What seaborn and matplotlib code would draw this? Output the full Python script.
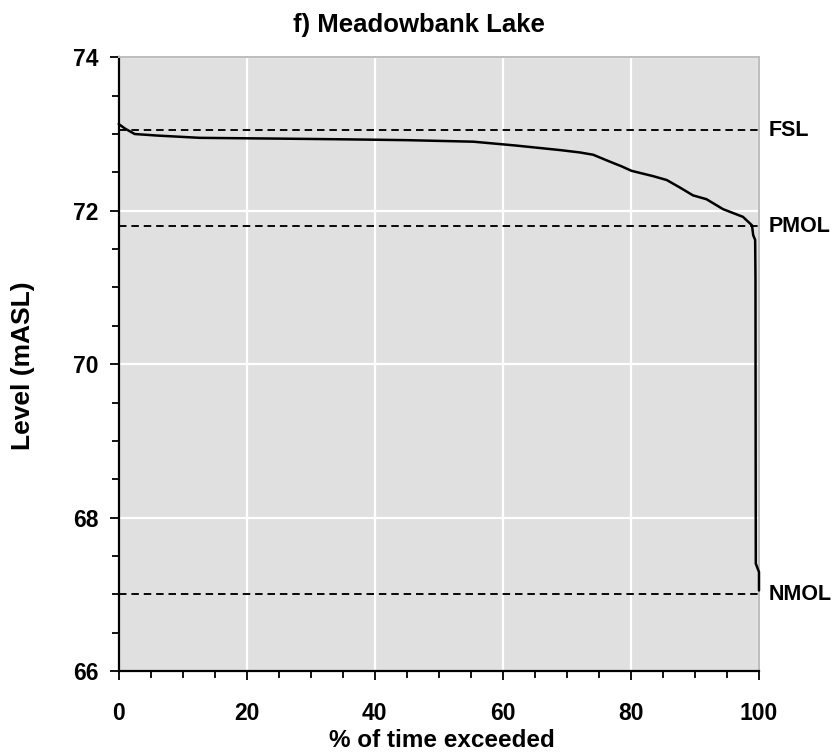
import matplotlib
matplotlib.use("Agg")
import matplotlib.pyplot as plt
import seaborn as sns
import pandas as pd
from matplotlib.ticker import MultipleLocator

# Data
pct_exceeded = [0, 1, 2.5, 6, 12.7, 25, 36, 45, 55.4, 62, 69, 72, 74.1, 76.7,
                78.5, 80.1, 83.5, 85.6, 87.7, 89.7, 91.8, 94.4, 97.5, 98.9,
                99.1, 99.4, 99.45, 99.5, 100, 100]
level = [73.13, 73.07, 73.0, 72.98, 72.95, 72.94, 72.93, 72.92, 72.90, 72.85,
         72.79, 72.76, 72.73, 72.64, 72.58, 72.52, 72.45, 72.40, 72.30, 72.20,
         72.15, 72.02, 71.92, 71.81, 71.68, 71.62, 71.12, 67.40, 67.29, 67.05]
ref_names = ["FSL", "PMOL", "NMOL"]
ref_levels = [73.05, 71.8, 67.0]
x_ticks = [0, 20, 40, 60, 80, 100]
y_ticks = [66, 68, 70, 72, 74]

df = pd.DataFrame({"pct": pct_exceeded, "level": level})

sns.set_theme(style="white")
plt.rcParams["font.family"] = ["Liberation Sans", "DejaVu Sans"]
plt.rcParams["font.weight"] = "bold"
for k in ["text.color", "axes.labelcolor", "xtick.color", "ytick.color"]:
    plt.rcParams[k] = "black"

fig = plt.figure(figsize=(8.37, 7.53), dpi=100)
ax = fig.add_axes([0.1418, 0.1089, 0.9068 - 0.1418, 0.9239 - 0.1089])
ax.set_facecolor("#e0e0e0")

ax.set_xlim(0, 100)
ax.set_ylim(66, 74)
ax.set_xticks(x_ticks)
ax.set_yticks(y_ticks)
ax.xaxis.set_minor_locator(MultipleLocator(5))
ax.yaxis.set_minor_locator(MultipleLocator(0.5))
ax.grid(True, which="major", color="white", linewidth=1.6)
ax.set_axisbelow(True)

for name, lv in zip(ref_names, ref_levels):
    ax.axhline(lv, color="black", linestyle=(0, (4, 2.6)), linewidth=1.35, zorder=3)
    ax.annotate(name, xy=(1.0, lv), xycoords=("axes fraction", "data"),
                xytext=(10, 0), textcoords="offset pixels",
                ha="left", va="center", fontsize=15.5, fontweight="bold",
                color="black")

sns.lineplot(data=df, x="pct", y="level", ax=ax, color="black", linewidth=1.8,
             estimator=None, sort=False, zorder=4, clip_on=False)

for s in ["left", "bottom"]:
    ax.spines[s].set_color("black")
    ax.spines[s].set_linewidth(1.6)
for s in ["top", "right"]:
    ax.spines[s].set_color("#bdbdbd")
    ax.spines[s].set_linewidth(1.4)

ax.tick_params(axis="both", which="major", direction="out", length=6.5, width=1.3,
               color="black", labelsize=16.5, left=True, bottom=True)
ax.tick_params(axis="x", which="major", pad=16)
ax.tick_params(axis="y", which="major", pad=8)
ax.tick_params(axis="both", which="minor", direction="out", length=5, width=1.3,
               color="black", left=True, bottom=True)
for lab in ax.get_xticklabels() + ax.get_yticklabels():
    lab.set_fontweight("bold")

ax.set_xlabel("% of time exceeded", fontsize=17.5, fontweight="bold")
ax.xaxis.set_label_coords(0.504, -0.0945)
ax.set_ylabel("Level (mASL)", fontsize=19, fontweight="bold")
ax.yaxis.set_label_coords(-0.130, 0.497)
ax.set_title("f) Meadowbank Lake", fontsize=18.5, fontweight="bold", pad=18, x=0.469)

fig.savefig("out.png", dpi=100)
